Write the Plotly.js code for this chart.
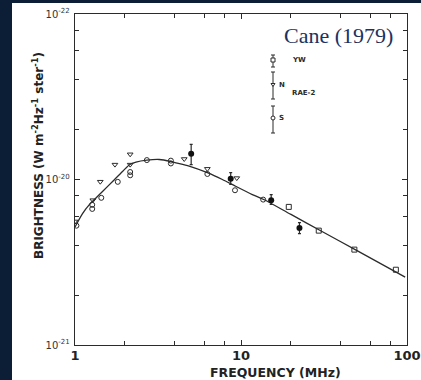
<!DOCTYPE html>
<html>
<head>
<meta charset="utf-8">
<script src="https://cdn.plot.ly/plotly-3.0.1.min.js"></script>
<style>html,body{margin:0;padding:0;background:#0b1e36;}#chart{width:421px;height:380px;}</style>
</head>
<body>
<div id="chart"></div>
<script>
// RAE-2 N (triangles)
const freqN = [1.0, 1.28, 1.42, 1.74, 2.15, 2.15, 4.55, 6.27, 9.43];
const brightN = [5.58e-21, 7.5e-21, 9.7e-21, 1.23e-20, 1.42e-20, 1.23e-20, 1.33e-20, 1.16e-20, 1.02e-20];
// RAE-2 S (circles)
const freqS = [1.02, 1.27, 1.27, 1.44, 1.81, 2.15, 2.15, 2.71, 3.78, 3.78, 6.27, 9.2, 13.6];
const brightS = [5.26e-21, 7.03e-21, 6.64e-21, 7.75e-21, 9.68e-21, 1.11e-20, 1.06e-20, 1.31e-20, 1.30e-20, 1.25e-20, 1.08e-20, 8.61e-21, 7.56e-21];
// YW (squares)
const freqYW = [19.4, 29.4, 48.2, 85.7];
const brightYW = [6.83e-21, 4.91e-21, 3.77e-21, 2.85e-21];
// filled points with error bars
const freqF = [5.01, 8.67, 15.2, 22.5];
const brightF = [1.43e-20, 1.01e-20, 7.49e-21, 5.10e-21];
const brightFHigh = [1.63e-20, 1.10e-20, 8.11e-21, 5.49e-21];
const brightFLow = [1.23e-20, 9.33e-21, 7.06e-21, 4.71e-21];
// fitted curve
const freqFit = [1.0, 1.11, 1.22, 1.31, 1.47, 1.69, 1.94, 2.14, 2.33, 2.71, 3.22, 3.78, 4.05, 4.87, 6.27, 7.72, 9.28, 11.7, 13.7, 20, 30, 50, 97.5];
const brightFit = [5.16e-21, 6.22e-21, 7.05e-21, 7.57e-21, 8.49e-21, 9.77e-21, 1.122e-20, 1.233e-20, 1.274e-20, 1.309e-20, 1.321e-20, 1.285e-20, 1.262e-20, 1.205e-20, 1.099e-20, 1.0e-20, 9.10e-21, 8.11e-21, 7.57e-21, 6.15e-21, 4.92e-21, 3.72e-21, 2.57e-21];
// ticks
const xTickVals = [1, 10, 100];
const xTickText = ['<b>1</b>', '<b>10</b>', '<b>100</b>'];
const xMinor = [2, 4, 6, 8, 20, 40, 60, 80];
const yTickVals = [1e-21, 1e-20, 1e-19];
const yTickText = ['10<sup>-21</sup>', '10<sup>-20</sup>', '10<sup>-22</sup>'];
const yMinor = [2e-21, 4e-21, 6e-21, 8e-21, 2e-20, 4e-20, 6e-20, 8e-20];

const ink = '#2b2b2b';

const traces = [
  {x: freqFit, y: brightFit, mode: 'lines', line: {color: ink, width: 1.3, shape: 'spline', smoothing: 0.8}, hoverinfo: 'skip'},
  {x: freqN, y: brightN, mode: 'markers', marker: {symbol: 'triangle-down-open', size: 5, color: ink, line: {width: 1}}},
  {x: freqS, y: brightS, mode: 'markers', marker: {symbol: 'circle-open', size: 5, color: ink, line: {width: 1}}},
  {x: freqYW, y: brightYW, mode: 'markers', marker: {symbol: 'square-open', size: 5, color: ink, line: {width: 1}}},
  {x: freqF, y: brightF, mode: 'markers', marker: {symbol: 'circle', size: 6, color: '#111'},
   error_y: {type: 'data', symmetric: false,
     array: brightFHigh.map((h, i) => h - brightF[i]),
     arrayminus: brightFLow.map((l, i) => brightF[i] - l),
     color: ink, thickness: 1.2, width: 1.5}}
];

// paper-coordinate helpers for legend glyphs
const L = 75, T = 14, W = 332, H = 331;
const px = p => (p - L) / W;
const py = q => (T + H - q) / H;

const shapes = [
  {type: 'rect', xref: 'paper', yref: 'paper', x0: px(12), x1: px(425), y0: py(384), y1: py(3), fillcolor: '#ffffff', line: {width: 0}, layer: 'below'}
];
function bar(x, y0, y1) {
  shapes.push({type: 'line', xref: 'paper', yref: 'paper', x0: px(x), x1: px(x), y0: py(y0), y1: py(y1), line: {color: ink, width: 1}});
  shapes.push({type: 'line', xref: 'paper', yref: 'paper', x0: px(x - 2), x1: px(x + 2), y0: py(y0), y1: py(y0), line: {color: ink, width: 1}});
  shapes.push({type: 'line', xref: 'paper', yref: 'paper', x0: px(x - 2), x1: px(x + 2), y0: py(y1), y1: py(y1), line: {color: ink, width: 1}});
}
bar(273, 55, 67);
shapes.push({type: 'rect', xref: 'paper', yref: 'paper', x0: px(271), x1: px(275), y0: py(62), y1: py(58), fillcolor: '#fff', line: {color: ink, width: 1}});
bar(273, 72, 99);
shapes.push({type: 'path', xref: 'paper', yref: 'paper',
  path: `M ${px(271)} ${py(83.5)} L ${px(275)} ${py(83.5)} L ${px(273)} ${py(86.5)} Z`, fillcolor: '#fff', line: {color: ink, width: 1}});
bar(273, 106, 133);
shapes.push({type: 'circle', xref: 'paper', yref: 'paper', x0: px(271), x1: px(275), y0: py(120), y1: py(116), fillcolor: '#fff', line: {color: ink, width: 1}});

const lblFont = {family: 'DejaVu Sans', size: 7, color: ink};
function ann(text, x, y, font, extra) {
  return Object.assign({text: text, xref: 'paper', yref: 'paper', x: px(x), y: py(y), showarrow: false,
    xanchor: 'center', yanchor: 'middle', font: font}, extra || {});
}
const annotations = [
  ann('Cane (1979)', 338.5, 35, {family: 'Liberation Serif', size: 22, color: '#1c3260'}),
  ann('<b>YW</b>', 290, 60, lblFont, {xanchor: 'left'}),
  ann('<b>N</b>', 277, 85, lblFont, {xanchor: 'left'}),
  ann('<b>RAE-2</b>', 290, 93, lblFont, {xanchor: 'left'}),
  ann('<b>S</b>', 277, 118, lblFont, {xanchor: 'left'}),
  ann('<b>FREQUENCY (MHz)</b>', 275, 372, {family: 'DejaVu Sans', size: 12.5, color: '#222'}),
  ann('<b>BRIGHTNESS (W m<sup>-2</sup>Hz<sup>-1</sup> ster<sup>-1</sup>)</b>', 38, 156, {family: 'DejaVu Sans', size: 12, color: '#222'}, {textangle: -90})
];

const layout = {
  width: 421, height: 380,
  margin: {l: L, r: 421 - L - W, t: T, b: 380 - T - H},
  paper_bgcolor: '#0b1e36', plot_bgcolor: 'rgba(0,0,0,0)',
  showlegend: false,
  xaxis: {type: 'log', range: [0, 2], tickvals: xTickVals, ticktext: xTickText,
    tickfont: {family: 'DejaVu Sans', size: 13, color: '#222'},
    ticks: 'inside', ticklen: 5, tickcolor: ink, showline: true, linecolor: ink, linewidth: 1.3, mirror: 'ticks',
    showgrid: false, zeroline: false, ticklabelstandoff: -2,
    minor: {tickvals: xMinor, ticks: 'inside', ticklen: 4, tickcolor: ink, showgrid: false}},
  yaxis: {type: 'log', range: [-21, -19], tickvals: yTickVals, ticktext: yTickText,
    tickfont: {family: 'DejaVu Sans', size: 10, color: '#333'},
    ticks: 'inside', ticklen: 5, tickcolor: ink, showline: true, linecolor: ink, linewidth: 1.3, mirror: 'ticks',
    showgrid: false, zeroline: false, ticklabelstandoff: 2,
    minor: {tickvals: yMinor, ticks: 'inside', ticklen: 4, tickcolor: ink, showgrid: false}},
  shapes: shapes,
  annotations: annotations
};

Plotly.newPlot('chart', traces, layout, {staticPlot: true, displayModeBar: false});
</script>
</body>
</html>
